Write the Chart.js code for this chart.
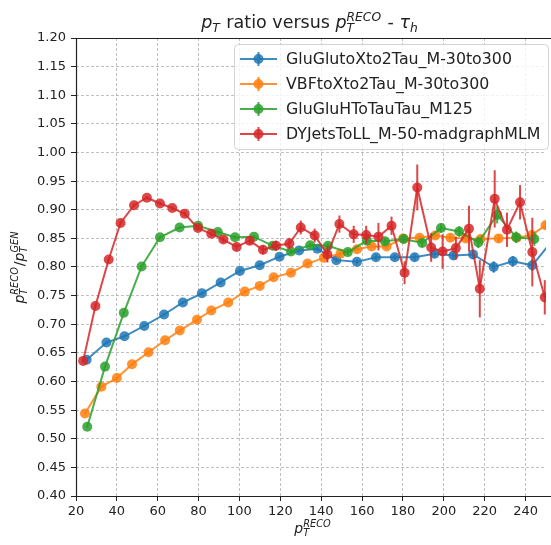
<!DOCTYPE html>
<html>
<head>
<meta charset="utf-8">
<script src="https://cdn.jsdelivr.net/npm/chart.js@4.4.0/dist/chart.umd.min.js"></script>
<style>
  html, body { margin: 0; padding: 0; background: #fff; }
  #wrap { width: 551px; height: 545px; position: relative; }
</style>
</head>
<body>
<div id="wrap"><canvas id="ratioChart"></canvas></div>
<script>
const FONT = "'DejaVu Sans', sans-serif"

// x tick labels
const xTickValues = [20, 40, 60, 80, 100, 120, 140, 160, 180, 200, 220, 240]

// GluGlutoXto2Tau_M-30to300
const blueX = [25.2, 34.9, 43.7, 53.4, 63.1, 72.3, 81.6, 90.8, 100.2, 109.9, 119.6, 129.2, 138.1, 147.4, 157.5, 166.8, 176.0, 185.7, 195.4, 204.7, 214.3, 224.4, 233.8, 243.3, 252.8]
const blueY = [0.638, 0.668, 0.679, 0.697, 0.717, 0.738, 0.754, 0.773, 0.793, 0.803, 0.818, 0.829, 0.832, 0.812, 0.809, 0.817, 0.817, 0.817, 0.823, 0.820, 0.822, 0.800, 0.810, 0.803, 0.845]
const blueErr = [0.002, 0.002, 0.002, 0.002, 0.002, 0.002, 0.002, 0.002, 0.003, 0.003, 0.003, 0.003, 0.004, 0.004, 0.004, 0.005, 0.005, 0.006, 0.006, 0.007, 0.008, 0.010, 0.009, 0.010, 0.012]

// VBFtoXto2Tau_M-30to300
const orangeX = [24.4, 32.4, 40.0, 47.4, 55.5, 63.6, 70.8, 79.2, 86.2, 94.5, 102.6, 109.9, 116.7, 125.2, 133.3, 141.3, 149.4, 157.5, 164.7, 172.0, 180.1, 188.1, 195.8, 203.2, 210.7, 218.0, 226.8, 235.7, 243.0, 249.8]
const orangeY = [0.544, 0.591, 0.606, 0.630, 0.651, 0.672, 0.689, 0.708, 0.724, 0.738, 0.757, 0.767, 0.782, 0.790, 0.806, 0.816, 0.823, 0.831, 0.836, 0.836, 0.850, 0.851, 0.855, 0.851, 0.850, 0.849, 0.850, 0.851, 0.856, 0.873]
const orangeErr = [0.002, 0.002, 0.002, 0.002, 0.002, 0.002, 0.002, 0.002, 0.002, 0.002, 0.003, 0.003, 0.003, 0.003, 0.003, 0.004, 0.004, 0.004, 0.004, 0.005, 0.005, 0.005, 0.005, 0.006, 0.006, 0.006, 0.007, 0.007, 0.008, 0.008]

// GluGluHToTauTau_M125
const greenX = [25.5, 34.2, 43.4, 52.1, 61.1, 70.7, 79.7, 89.4, 97.8, 107.1, 116.3, 125.2, 134.6, 143.3, 153.0, 162.3, 171.2, 180.4, 189.4, 198.6, 207.5, 216.9, 226.1, 235.4, 244.3]
const greenY = [0.521, 0.626, 0.720, 0.801, 0.852, 0.869, 0.872, 0.861, 0.852, 0.853, 0.837, 0.827, 0.838, 0.837, 0.826, 0.846, 0.845, 0.849, 0.842, 0.868, 0.862, 0.843, 0.891, 0.852, 0.849]
const greenErr = [0.002, 0.002, 0.002, 0.002, 0.002, 0.002, 0.002, 0.003, 0.003, 0.003, 0.004, 0.004, 0.004, 0.005, 0.005, 0.006, 0.006, 0.007, 0.007, 0.008, 0.009, 0.010, 0.015, 0.010, 0.012]

// DYJetsToLL_M-50-madgraphMLM
const redX = [23.5, 29.5, 36.0, 41.8, 48.4, 54.7, 61.1, 67.1, 73.2, 79.7, 86.2, 92.1, 98.6, 105.0, 111.5, 117.9, 124.4, 130.0, 136.8, 143.0, 148.9, 155.9, 162.0, 168.0, 174.4, 180.8, 187.0, 193.8, 199.4, 205.9, 212.3, 217.6, 224.9, 230.9, 237.3, 243.3, 249.4]
const redY = [0.636, 0.732, 0.813, 0.877, 0.908, 0.921, 0.911, 0.903, 0.893, 0.868, 0.858, 0.848, 0.835, 0.846, 0.830, 0.837, 0.841, 0.869, 0.855, 0.822, 0.875, 0.857, 0.856, 0.853, 0.872, 0.790, 0.939, 0.834, 0.827, 0.833, 0.867, 0.762, 0.919, 0.865, 0.913, 0.826, 0.747]
const redErr = [0.003, 0.003, 0.003, 0.003, 0.003, 0.003, 0.003, 0.003, 0.004, 0.004, 0.005, 0.005, 0.006, 0.007, 0.008, 0.009, 0.010, 0.012, 0.012, 0.014, 0.015, 0.015, 0.016, 0.024, 0.016, 0.020, 0.040, 0.025, 0.030, 0.020, 0.040, 0.050, 0.050, 0.030, 0.030, 0.060, 0.030]

const seriesNames = ["GluGlutoXto2Tau_M-30to300", "VBFtoXto2Tau_M-30to300", "GluGluHToTauTau_M125", "DYJetsToLL_M-50-madgraphMLM"]
const seriesColors = ["rgba(31,119,180,0.85)", "rgba(255,127,14,0.85)", "rgba(44,160,44,0.85)", "rgba(214,39,40,0.85)"]

function makeSet(i, xs, ys, errs) {
  return {
    label: seriesNames[i],
    data: xs.map((x, k) => ({ x: x, y: ys[k] })),
    errors: errs,
    showLine: true,
    borderColor: seriesColors[i],
    backgroundColor: seriesColors[i],
    borderWidth: 2,
    pointRadius: 5,
    pointHoverRadius: 5,
    pointBorderWidth: 0,
    order: 3 - i,
  }
}

// draw text with matplotlib-ish mathtext (italic base, sub/superscripts)
function mathWidth(ctx, parts, size) {
  let w = 0
  parts.forEach(p => {
    ctx.font = (p.it ? "italic " : "") + size + "px " + FONT
    w += ctx.measureText(p.t).width
    ctx.font = "italic " + (size * 0.7) + "px " + FONT
    const ws = p.sub ? ctx.measureText(p.sub).width : 0
    const wp = p.sup ? ctx.measureText(p.sup).width : 0
    w += Math.max(ws, wp) + (p.sub || p.sup ? 1 : 0)
  })
  return w
}

function drawMath(ctx, parts, cx, baseline, size) {
  let x = cx - mathWidth(ctx, parts, size) / 2
  ctx.fillStyle = "#222"
  ctx.textAlign = "left"
  ctx.textBaseline = "alphabetic"
  parts.forEach(p => {
    ctx.font = (p.it ? "italic " : "") + size + "px " + FONT
    ctx.fillText(p.t, x, baseline)
    x += ctx.measureText(p.t).width
    ctx.font = "italic " + (size * 0.7) + "px " + FONT
    let ws = 0, wp = 0
    if (p.sub) { ctx.fillText(p.sub, x, baseline + size * 0.22); ws = ctx.measureText(p.sub).width }
    if (p.sup) { ctx.fillText(p.sup, x, baseline - size * 0.42); wp = ctx.measureText(p.sup).width }
    x += Math.max(ws, wp) + (p.sub || p.sup ? 1 : 0)
  })
}

const errorBars = {
  id: "errorBars",
  beforeDatasetDraw(chart, args) {
    const ds = chart.data.datasets[args.index]
    const { ctx, chartArea, scales } = chart
    ctx.save()
    ctx.beginPath()
    ctx.rect(chartArea.left, chartArea.top, chartArea.width, chartArea.height)
    ctx.clip()
    ctx.strokeStyle = ds.borderColor
    ctx.lineWidth = 2
    ds.data.forEach((p, i) => {
      const px = scales.x.getPixelForValue(p.x)
      ctx.beginPath()
      ctx.moveTo(px, scales.y.getPixelForValue(p.y - ds.errors[i]))
      ctx.lineTo(px, scales.y.getPixelForValue(p.y + ds.errors[i]))
      ctx.stroke()
    })
    ctx.restore()
  },
}

const decorations = {
  id: "decorations",
  afterDraw(chart) {
    const { ctx, chartArea: a } = chart
    ctx.save()
    // frame
    ctx.strokeStyle = "#222"
    ctx.lineWidth = 1.2
    ctx.beginPath()
    ctx.moveTo(a.right + 5, a.top + 0.5)
    ctx.lineTo(a.left + 0.5, a.top + 0.5)
    ctx.lineTo(a.left + 0.5, a.bottom + 0.5)
    ctx.lineTo(a.right + 5, a.bottom + 0.5)
    ctx.stroke()

    // title and axis labels
    drawMath(ctx, [{ t: "p", it: true, sub: "T" }, { t: " ratio versus " }, { t: "p", it: true, sub: "T", sup: "RECO" }, { t: " - " }, { t: "τ", it: true, sub: "h" }], 310, 28, 17.5)
    drawMath(ctx, [{ t: "p", it: true, sub: "T", sup: "RECO" }], 313, 533, 14)
    ctx.save()
    ctx.translate(24, 267)
    ctx.rotate(-Math.PI / 2)
    drawMath(ctx, [{ t: "p", it: true, sub: "T", sup: "RECO" }, { t: "/" }, { t: "p", it: true, sub: "T", sup: "GEN" }], 0, 0, 14)
    ctx.restore()

    // legend
    const lx = 234, ly = 44, lw = 314, lh = 105
    ctx.fillStyle = "rgba(255,255,255,0.8)"
    ctx.strokeStyle = "#d4d4d4"
    ctx.lineWidth = 1
    ctx.beginPath()
    ctx.roundRect(lx + 0.5, ly + 0.5, lw, lh, 4)
    ctx.fill()
    ctx.stroke()
    seriesNames.forEach((name, i) => {
      const yy = 59 + i * 25
      ctx.strokeStyle = seriesColors[i]
      ctx.fillStyle = seriesColors[i]
      ctx.lineWidth = 2
      ctx.beginPath()
      ctx.moveTo(240, yy)
      ctx.lineTo(277, yy)
      ctx.moveTo(258.5, yy - 7)
      ctx.lineTo(258.5, yy + 7)
      ctx.stroke()
      ctx.beginPath()
      ctx.arc(258.5, yy, 5, 0, Math.PI * 2)
      ctx.fill()
      ctx.fillStyle = "#222"
      ctx.font = "15.8px " + FONT
      ctx.textAlign = "left"
      ctx.textBaseline = "middle"
      ctx.fillText(name, 286, yy + 1)
    })
    ctx.restore()
  },
}

const gridStyle = {
  color: "rgba(170,170,170,0.75)",
  lineWidth: 1,
  drawTicks: true,
  tickLength: 5,
  tickColor: "#222",
  tickBorderDash: [1, 0],
}

new Chart(document.getElementById("ratioChart"), {
  type: "scatter",
  data: {
    datasets: [
      makeSet(0, blueX, blueY, blueErr),
      makeSet(1, orangeX, orangeY, orangeErr),
      makeSet(2, greenX, greenY, greenErr),
      makeSet(3, redX, redY, redErr),
    ],
  },
  options: {
    responsive: true,
    maintainAspectRatio: false,
    animation: false,
    layout: { padding: { top: 38, right: 0, left: 0, bottom: 0 } },
    plugins: { legend: { display: false }, tooltip: { enabled: false } },
    scales: {
      x: {
        type: "linear",
        min: 20,
        max: 250,
        grid: gridStyle,
        border: { display: false, dash: [3, 2] },
        afterBuildTicks: scale => {
          scale.ticks = xTickValues.map(v => ({ value: v }))
        },
        afterFit: scale => { scale.height = 49 },
        ticks: { color: "#222", font: { family: FONT, size: 13 }, padding: 3, maxRotation: 0 },
      },
      y: {
        min: 0.4,
        max: 1.2,
        grid: gridStyle,
        border: { display: false, dash: [3, 2] },
        afterFit: scale => { scale.width = 76 },
        ticks: {
          stepSize: 0.05,
          color: "#222",
          font: { family: FONT, size: 13 },
          padding: 5,
          callback: v => v.toFixed(2),
        },
      },
    },
  },
  plugins: [errorBars, decorations],
})
</script>
</body>
</html>
